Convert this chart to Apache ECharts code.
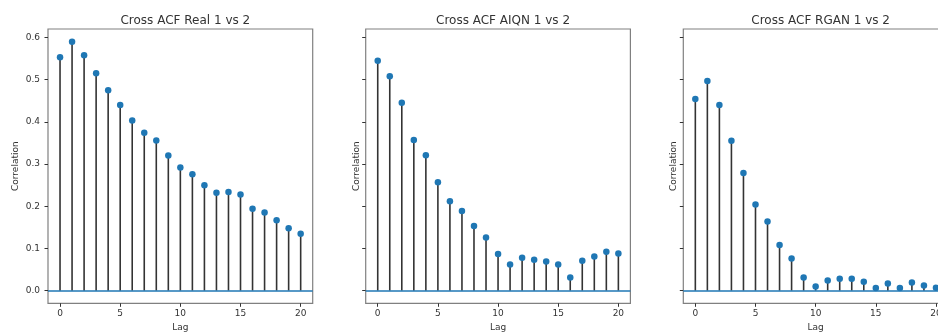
<!DOCTYPE html>
<html>
<head>
<meta charset="utf-8">
<script src="https://cdn.jsdelivr.net/npm/echarts@6/dist/echarts.min.js"></script>
<style>
html,body{margin:0;padding:0;background:#fff;}
#chart{width:938px;height:334px;}
</style>
</head>
<body>
<div id="chart"></div>
<script>
var lags = [0,1,2,3,4,5,6,7,8,9,10,11,12,13,14,15,16,17,18,19,20];
var realACF = [0.553,0.590,0.558,0.515,0.475,0.440,0.403,0.374,0.356,0.320,0.292,0.276,0.250,0.232,0.234,0.228,0.194,0.185,0.167,0.148,0.135];
var aiqnACF = [0.545,0.508,0.445,0.357,0.321,0.257,0.212,0.189,0.153,0.126,0.087,0.062,0.078,0.073,0.069,0.062,0.031,0.071,0.081,0.092,0.088];
var rganACF = [0.454,0.497,0.440,0.355,0.279,0.204,0.164,0.108,0.076,0.031,0.010,0.024,0.028,0.028,0.021,0.006,0.017,0.006,0.019,0.012,0.007];
var titles = ['Cross ACF Real 1 vs 2','Cross ACF AIQN 1 vs 2','Cross ACF RGAN 1 vs 2'];
var xTicks = [0,5,10,15,20];
var yTicks = [0,0.1,0.2,0.3,0.4,0.5,0.6];
var xName = 'Lag';
var yName = 'Correlation';

var seriesData = [realACF, aiqnACF, rganACF];
var gridLefts = [48, 365.7, 683.3];
var gridW = 264.7, gridTop = 29, gridH = 274.3;
var FONT = 'DejaVu Sans';
var TXT = '#333333';
var SPINE = '#808080';
var BLUE = '#1f77b4';
var STEM = '#333333';

var grids = [], xAxes = [], yAxes = [], series = [], title = [];
for (var i = 0; i < 3; i++) {
  grids.push({left: gridLefts[i], top: gridTop, width: gridW, height: gridH,
    show: true, borderColor: SPINE, borderWidth: 1.2, backgroundColor: 'transparent',
    containLabel: false, outerBoundsMode: 'none'});
  title.push({text: titles[i], left: gridLefts[i] + gridW/2, top: 10, textAlign: 'center',
    textStyle: {fontFamily: FONT, fontSize: 12, fontWeight: 'normal', color: TXT}});
  xAxes.push({type: 'value', gridIndex: i, min: -1, max: 21, position: 'bottom',
    name: xName, nameLocation: 'middle', nameGap: 19,
    nameTextStyle: {fontFamily: FONT, fontSize: 9, color: TXT},
    axisLine: {show: false, onZero: false},
    splitLine: {show: false},
    axisTick: {show: true, inside: false, length: 3.5, lineStyle: {color: TXT, width: 1}, customValues: xTicks},
    axisLabel: {show: true, fontFamily: FONT, fontSize: 9, color: TXT, margin: 6, customValues: xTicks,
      formatter: function(v){ return String(v); }}
  });
  yAxes.push({type: 'value', gridIndex: i, min: -0.03, max: 0.62, position: 'left',
    name: yName, nameLocation: 'middle', nameGap: (i === 0 ? 28 : 5), nameRotate: 90,
    nameTextStyle: {fontFamily: FONT, fontSize: 9, color: TXT},
    axisLine: {show: false, onZero: false},
    splitLine: {show: false},
    axisTick: {show: true, inside: false, length: 3.5, lineStyle: {color: TXT, width: 1}, customValues: yTicks},
    axisLabel: {show: i === 0, fontFamily: FONT, fontSize: 9, color: TXT, margin: 8, customValues: yTicks,
      formatter: function(v){ return v.toFixed(1); }}
  });
  var pts = lags.map(function(l, k){ return [l, seriesData[i][k]]; });
  series.push({type: 'bar', xAxisIndex: i, yAxisIndex: i, data: pts, barWidth: 1.6,
    itemStyle: {color: STEM}, silent: true, z: 2, animation: false});
  series.push({type: 'scatter', xAxisIndex: i, yAxisIndex: i, data: pts, symbol: 'circle', symbolSize: 6.5,
    itemStyle: {color: BLUE, opacity: 1}, z: 4, silent: true, animation: false,
    markLine: {silent: true, symbol: 'none', label: {show: false}, animation: false,
      lineStyle: {color: BLUE, width: 1.5, type: 'solid'}, z: 3,
      data: [{yAxis: 0}]}});
}

var chart = echarts.init(document.getElementById('chart'), null, {renderer: 'canvas'});
chart.setOption({
  animation: false,
  backgroundColor: '#ffffff',
  title: title,
  grid: grids,
  xAxis: xAxes,
  yAxis: yAxes,
  series: series
});
</script>
</body>
</html>
